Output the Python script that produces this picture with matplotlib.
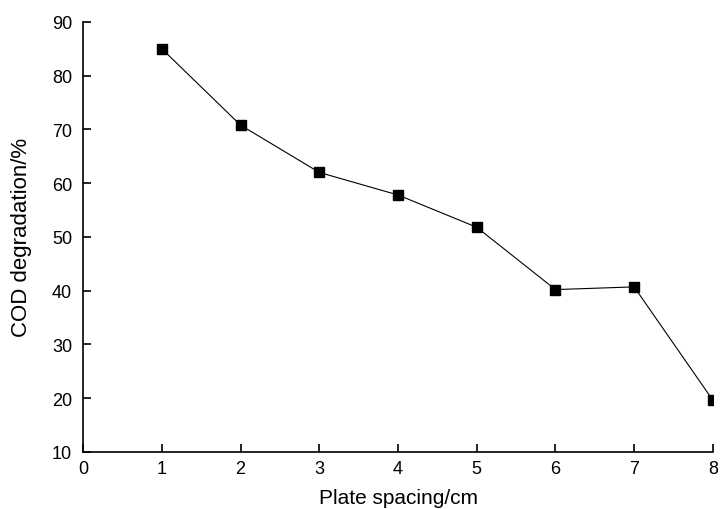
import matplotlib
matplotlib.use("Agg")
import matplotlib.pyplot as plt

plt.rcParams["font.family"] = ["Liberation Sans", "DejaVu Sans"]

spacing = [1, 2, 3, 4, 5, 6, 7, 8]
cod = [85.0, 70.8, 62.0, 57.8, 51.8, 40.2, 40.7, 19.6]

fig = plt.figure(figsize=(7.23, 5.10), dpi=100)
ax = fig.add_axes([0.115, 0.112, 0.871, 0.843])

ax.plot(spacing, cod, color="black", linewidth=0.8, marker="s",
        markersize=7, markerfacecolor="black", markeredgecolor="black")

ax.set_xlim(0, 8)
ax.set_ylim(10, 90)
ax.set_xticks(range(0, 9))
ax.set_yticks(range(10, 91, 10))

ax.spines["top"].set_visible(False)
ax.spines["right"].set_visible(False)
ax.spines["left"].set_linewidth(1.2)
ax.spines["bottom"].set_linewidth(1.2)
ax.tick_params(direction="in", length=6, width=1.2, labelsize=13)
ax.tick_params(axis="y", pad=8)
ax.tick_params(axis="x", pad=6)

ax.set_xlabel("Plate spacing/cm", fontsize=15, labelpad=8)
ax.set_ylabel("COD degradation/%", fontsize=16, labelpad=14)

fig.savefig("out.png", dpi=100)
